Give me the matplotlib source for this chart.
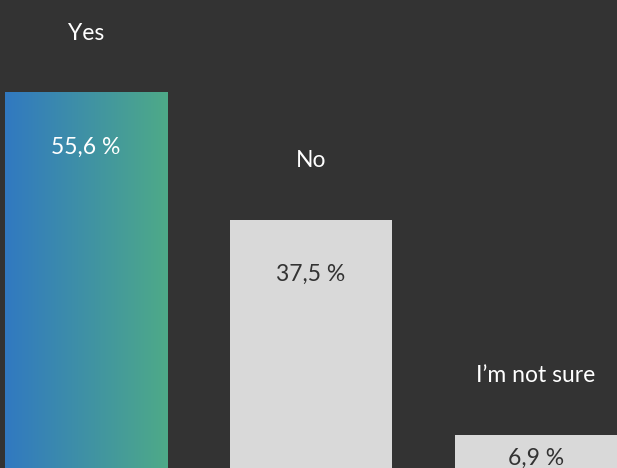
import matplotlib
matplotlib.use("Agg")
import matplotlib.pyplot as plt
import numpy as np
from matplotlib.colors import LinearSegmentedColormap

categories = ["Yes", "No", "I\u2019m not sure"]
values = [55.6, 37.5, 6.9]
value_labels = ["55,6 %", "37,5 %", "6,9 %"]

BG = "#333333"
GRAY = "#d9d9d9"
plt.rcParams['font.family'] = ['Lato', 'DejaVu Sans']

fig = plt.figure(figsize=(6.17, 4.68), dpi=100, facecolor=BG)
ax = fig.add_axes([0, 0, 1, 1])
ax.set_facecolor(BG)
ax.axis('off')

width = 0.72
x = np.arange(len(categories))
bars = ax.bar(x, values, width=width, color=GRAY, zorder=1)

cmap = LinearSegmentedColormap.from_list("g", ["#3179c1", "#4eaa88"])
grad = np.linspace(0, 1, 256).reshape(1, -1)
ax.imshow(grad, cmap=cmap, aspect='auto', extent=(x[0] - width / 2, x[0] + width / 2, 0, values[0]),
          zorder=2, interpolation='bicubic')
ax.set_xlim(-0.382, 2.36)
ax.set_ylim(2.2, 68.8)

for i, (c, v, lab) in enumerate(zip(categories, values, value_labels)):
    ax.annotate(c, (x[i], v), xytext=(0, 42.5), textcoords='offset points',
                ha='center', va='center', color='white', fontsize=16.5)
    off = -39.5 if v > 10 else -17.0
    ax.annotate(lab, (x[i], v), xytext=(0, off), textcoords='offset points',
                ha='center', va='center', color='white' if i == 0 else '#333333',
                fontsize=16.5, zorder=3)

fig.savefig("out.png", dpi=100, facecolor=BG)
